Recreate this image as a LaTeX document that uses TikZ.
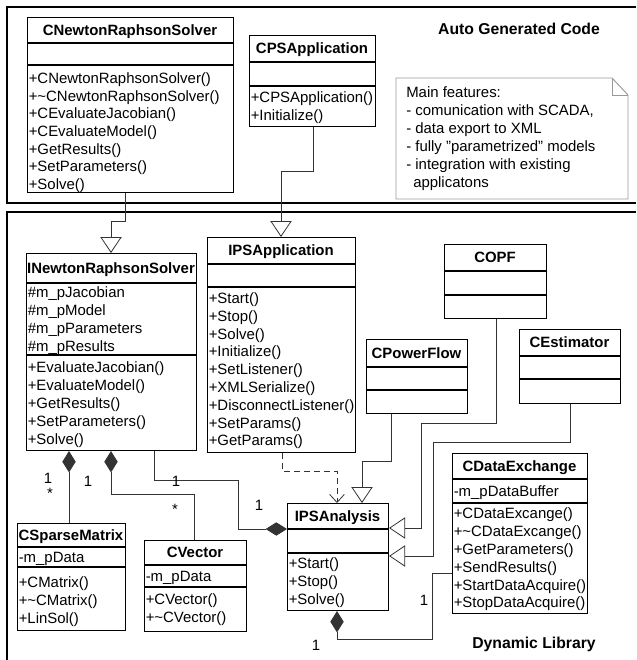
\documentclass[tikz,border=0pt]{standalone}
\usepackage{fontspec}
\setmainfont{Liberation Sans}
\usetikzlibrary{arrows.meta}
\newcommand\umlclass[8]{%
  \node[cls, minimum width={(#4-#2)*0.75pt}, minimum height={(#5-#3)*0.75pt}] (#1) at (#2,#3) {};
  \draw[line width=0.8pt] (#1.west |- 0,#6) -- (#1.east |- 0,#6) (#1.west |- 0,#7) -- (#1.east |- 0,#7);
  \node[ttl, anchor=base] (#1-t) at ({(#2+#4)/2},{(#3+#6)/2+5.4}) {#8};
}
\newcommand\umlmembers[5]{%
  \foreach \m [count=\i] in {#5} {
    \node[mem] (#1-\i) at (#2, {#3+5.4+(\i-1)*#4}) {\m};
  }
}
\begin{document}
\begin{tikzpicture}[x=0.75pt,y=-0.75pt,
  cls/.style={draw, line width=0.8pt, inner sep=0pt, anchor=north west},
  ttl/.style={font=\fontsize{11.2}{13}\selectfont\bfseries, inner sep=0pt},
  mem/.style={font=\fontsize{11.2}{13}\selectfont, inner sep=0pt, anchor=base west},
  lbl/.style={font=\fontsize{11.2}{13}\selectfont, inner sep=0pt},
  sec/.style={font=\fontsize{11.8}{14}\selectfont\bfseries, inner sep=0pt, anchor=base},
  frame/.style={line width=1.1pt},
  conn/.style={draw=black!80, line width=0.6pt},
  gen/.style={-{Triangle[length=12pt,width=16pt,fill=white]}},
  compE/.style={-{Diamond[length=16pt,width=10pt]}},
  compS/.style={{Diamond[length=16pt,width=10pt]}-},
  dep/.style={-{Straight Barb[length=6pt,width=11pt]}, dash pattern=on 4.5pt off 3pt},
  notec/.style={draw=black!40, line width=0.7pt}
]
\useasboundingbox (0,0) rectangle (636,660);
\fill[white] (0,0) rectangle (636,660);

% frames
\draw[frame] (636,7) -- (7,7) -- (7,203) -- (636,203);
\draw[frame] (636,212) -- (7,212) -- (7,660);

\node[sec] (auto) at (519,34.6) {Auto Generated Code};
\node[sec] (dyn) at (534,648.6) {Dynamic Library};

% classes
\umlclass{A}{27}{17}{233}{192}{43}{65}{CNewtonRaphsonSolver}
\umlmembers{A}{28.5}{78}{17.7}{+CNewtonRaphsonSolver(), +\textasciitilde CNewtonRaphsonSolver(), +CEvaluateJacobian(), +CEvaluateModel(), +GetResults(), +SetParameters(), +Solve()}

\umlclass{B}{249}{35}{375}{126}{62}{86}{CPSApplication}
\umlmembers{B}{250.5}{97}{17.7}{+CPSApplication(), +Initialize()}

\umlclass{C}{26}{253}{196}{450}{283}{355}{INewtonRaphsonSolver}
\umlmembers{Ca}{27.5}{292}{18}{\#m\_pJacobian, \#m\_pModel, \#m\_pParameters, \#m\_pResults}
\umlmembers{Cm}{27.5}{367}{18}{+EvaluateJacobian(), +EvaluateModel(), +GetResults(), +SetParameters(), +Solve()}

\umlclass{D}{207}{237}{355}{452}{264}{287}{IPSApplication}
\umlmembers{D}{208.5}{298}{17.8}{+Start(), +Stop(), +Solve(), +Initialize(), +SetListener(), +XMLSerialize(), +DisconnectListener(), +SetParams(), +GetParams()}

\umlclass{E}{287}{503}{388}{610}{529}{553}{IPSAnalysis}
\umlmembers{E}{288.5}{563}{17.8}{+Start(), +Stop(), +Solve()}

\umlclass{F}{366}{339}{467}{413}{367}{390}{CPowerFlow}
\umlclass{G}{444}{244}{546}{318}{271}{295}{COPF}
\umlclass{H}{519}{329}{620}{403}{356}{379}{CEstimator}

\umlclass{I}{452}{453}{587}{613}{479}{503}{CDataExchange}
\umlmembers{Ia}{453.5}{491}{17.8}{-m\_pDataBuffer}
\umlmembers{Im}{453.5}{513.5}{17.8}{+CDataExcange(), +\textasciitilde CDataExcange(), +GetParameters(), +SendResults(), +StartDataAcquire(), +StopDataAcquire()}

\umlclass{J}{17}{523}{125}{630}{547}{567}{CSparseMatrix}
\umlmembers{Ja}{18.5}{557}{17.8}{-m\_pData}
\umlmembers{Jm}{18.5}{582}{17.8}{+CMatrix(), +\textasciitilde CMatrix(), +LinSol()}

\umlclass{K}{144}{540}{246}{631}{565}{587}{CVector}
\umlmembers{Ka}{145.5}{576}{17.8}{-m\_pData}
\umlmembers{Km}{145.5}{599}{17.8}{+CVector(), +\textasciitilde CVector()}

% note
\draw[notec] (396,78) -- (612,78) -- (628,95) -- (628,199) -- (396,199) -- cycle;
\draw[notec] (612,78) -- (612,95) -- (628,95);
\umlmembers{L}{406}{92}{18}{Main features:, {- comunication with SCADA,}, - data export to XML, {- fully "parametrized" models}, - integration with existing}
\node[mem] (L-6) at (413,187.4) {applicatons};

% connectors
\draw[conn, gen] (125,0 |- A.south) |- (111,221) -- (111,0 |- C.north);
\draw[conn, gen] (313,0 |- B.south) |- (281,171) -- (281,0 |- D.north);
\draw[conn, compE] (154,0 |- C.south) |- (238,480) |- (E.west |- 0,529);
\draw[conn, compS] (69,0 |- C.south) -- (69,0 |- J.north);
\draw[conn, compS] (111,0 |- C.south) |- (194,494) -- (194,0 |- K.north);
\draw[conn, dep] (282,0 |- D.south) |- (337,471) -- (337,0 |- E.north);
\draw[conn, gen] (391,0 |- F.south) |- (362,461) -- (362,0 |- E.north);
\draw[conn, gen] (496,0 |- G.south) |- (421,423) |- (E.east |- 0,528);
\draw[conn, gen] (570,0 |- H.south) |- (433,442) |- (E.east |- 0,556);
\draw[conn, compE] (I.west |- 0,573) -| (432,639) -| (337,0 |- E.south);

% multiplicities
\node[lbl] (m1) at (48,478) {1};
\node[lbl] (m2) at (50,493) {*};
\node[lbl] (m3) at (88,481) {1};
\node[lbl] (m4) at (175,509) {*};
\node[lbl] (m5) at (176,481) {1};
\node[lbl] (m6) at (259,505) {1};
\node[lbl] (m7) at (424,600) {1};
\node[lbl] (m8) at (316,645) {1};
\end{tikzpicture}
\end{document}
